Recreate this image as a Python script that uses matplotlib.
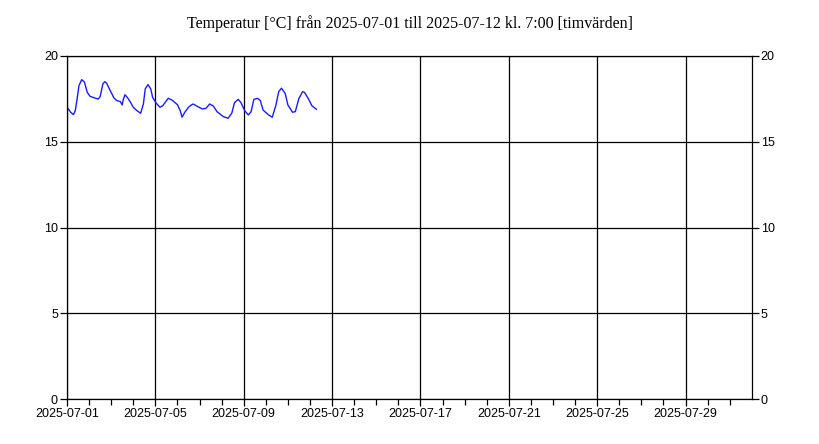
import numpy as np
import pandas as pd
from matplotlib import pyplot as plt
import matplotlib.dates as mdates

# readings: hours after 2025-07-01 00:00 and temperature (°C)
hours = [0, 4, 7, 9, 11, 13, 16, 19, 22, 25, 30, 34, 36, 39, 41, 43, 47, 51,
         54, 58, 60, 61, 63, 66, 69, 72, 76, 80, 83, 85, 88, 91, 93, 97, 101,
         104, 110, 114, 120, 123, 125, 128, 132, 135, 137, 142, 147, 151, 155,
         159, 163, 170, 175, 179, 182, 186, 189, 193, 197, 200, 203, 207, 210,
         213, 219, 223, 227, 230, 233, 237, 240, 245, 248, 252, 256, 258, 262,
         266, 271]
temps = [17.01, 16.72, 16.58, 16.81, 17.49, 18.27, 18.62, 18.47, 17.88, 17.65,
         17.55, 17.49, 17.63, 18.37, 18.50, 18.41, 17.98, 17.55, 17.40, 17.34,
         17.14, 17.43, 17.74, 17.55, 17.30, 17.01, 16.81, 16.66, 17.20, 18.08,
         18.33, 18.08, 17.59, 17.24, 17.01, 17.10, 17.53, 17.43, 17.16, 16.81,
         16.43, 16.72, 17.01, 17.14, 17.20, 17.05, 16.91, 16.95, 17.20, 17.08,
         16.75, 16.46, 16.37, 16.66, 17.28, 17.47, 17.28, 16.81, 16.56, 16.75,
         17.47, 17.53, 17.40, 16.85, 16.56, 16.43, 17.14, 17.92, 18.12, 17.82,
         17.14, 16.72, 16.75, 17.53, 17.92, 17.88, 17.53, 17.10, 16.89]

start = pd.Timestamp('2025-07-01')
end = pd.Timestamp('2025-07-31 23:50')
times = [start + pd.Timedelta(hours=h) for h in hours]

title = 'Temperatur [°C] från 2025-07-01 till 2025-07-12 kl. 7:00 [timvärden]'

plt.rcParams['font.family'] = ['Liberation Sans', 'DejaVu Sans']

fig = plt.figure(figsize=(8.2, 4.44), dpi=100)
ax = fig.add_axes([0.0817, 0.101, 0.835, 0.773])

ax.plot(times, temps, color='#1a1aff', linewidth=1)

ax.set_xlim(start, end)
ax.set_ylim(0, 20)
ax.set_yticks([0, 5, 10, 15, 20])

ax.xaxis.set_major_locator(mdates.DayLocator(bymonthday=[1, 5, 9, 13, 17, 21, 25, 29]))
ax.xaxis.set_minor_locator(mdates.DayLocator())
ax.xaxis.set_major_formatter(mdates.DateFormatter('%Y-%m-%d'))

ax.grid(True, which='major', color='black', linewidth=0.9)
ax.tick_params(axis='both', which='major', direction='out', length=5,
               width=0.9, labelsize=9, pad=1.5)
ax.tick_params(axis='x', which='minor', direction='out', length=4, width=0.9)
ax.tick_params(axis='y', right=True, labelright=True)
for s in ax.spines.values():
    s.set_linewidth(0.9)

fig.text(0.5, 0.947, title, ha='center', va='center', fontsize=11.5,
         family='Liberation Serif')

fig.savefig('out.png', dpi=100)
